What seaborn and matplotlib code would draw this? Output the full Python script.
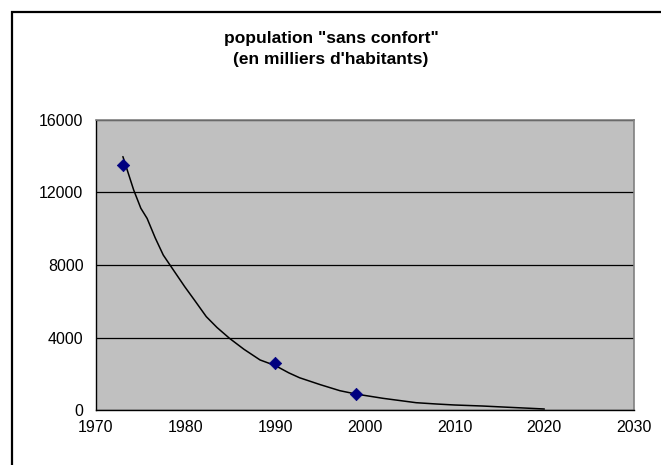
import matplotlib
matplotlib.use("Agg")
import matplotlib.pyplot as plt
import seaborn as sns
import pandas as pd
from matplotlib.patches import Rectangle

# Observed data points
years = [1973, 1990, 1999]
population = [13500, 2600, 870]

# Trend curve
trend_years = [1973, 1974.2, 1975.0, 1975.7, 1976.6, 1977.5, 1978.25, 1979.9, 1981.0,
               1982.3, 1983.5, 1984.9, 1986.5, 1988.3, 1990, 1991.5, 1992.7, 1995,
               1997.2, 1999, 2002.0, 2005.7, 2008, 2010.0, 2013.1, 2016, 2018.4, 2020]
trend_values = [13980, 12140, 11130, 10570, 9500, 8550, 8000, 6800, 6050,
                5150, 4550, 3950, 3350, 2760, 2450, 2050, 1780, 1400,
                1065, 880, 645, 403, 330, 276, 220, 150, 94, 55]

xticks = [1970, 1980, 1990, 2000, 2010, 2020, 2030]
yticks = [0, 4000, 8000, 12000, 16000]
title = 'population "sans confort"\n(en milliers d\'habitants)'

sns.set_style("white")
plt.rcParams['font.family'] = ['Liberation Sans', 'DejaVu Sans']
plt.rcParams['text.color'] = 'black'
plt.rcParams['xtick.color'] = 'black'
plt.rcParams['ytick.color'] = 'black'
plt.rcParams['axes.labelcolor'] = 'black'

fig = plt.figure(figsize=(6.61, 4.65), dpi=100)
ax = fig.add_axes([96/661, 1-410/465, (634-96)/661, (410-120)/465])
ax.set_facecolor("#c0c0c0")

df_pts = pd.DataFrame({"year": years, "pop": population})
df_tr = pd.DataFrame({"year": trend_years, "pop": trend_values})

sns.lineplot(data=df_tr, x="year", y="pop", ax=ax, color="black", linewidth=1.1, zorder=3)
sns.scatterplot(data=df_pts, x="year", y="pop", ax=ax, marker="D", s=40,
                color="#000080", edgecolor="#000080", zorder=4)

ax.set_xlim(1970, 2030)
ax.set_ylim(0, 16000)
ax.set_xticks(xticks)
ax.set_yticks(yticks)
ax.set_xticklabels([str(t) for t in xticks], fontsize=11.5, color="black")
ax.set_yticklabels([str(t) for t in yticks], fontsize=11.5, color="black")
ax.set_xlabel("")
ax.set_ylabel("")
ax.grid(axis="y", color="black", linewidth=0.9)
ax.grid(axis="x", visible=False)
ax.set_axisbelow(True)
ax.tick_params(axis="x", direction="out", length=6, width=1, color="black", pad=1)
ax.tick_params(axis="y", direction="out", length=6, width=1, color="black", pad=3)
for side in ["top", "right"]:
    ax.spines[side].set_color("#808080")
    ax.spines[side].set_linewidth(1.2)
    ax.spines[side].set_visible(True)
for side in ["left", "bottom"]:
    ax.spines[side].set_color("black")
    ax.spines[side].set_linewidth(1.0)
    ax.spines[side].set_visible(True)

fig.text(331/661, 1-49/465, title, ha="center", va="center", fontsize=12.5,
         fontweight="bold", linespacing=1.5, color="black")

fig.patches.append(Rectangle((12/661, -0.05), 1.0, 1-12/465+0.05, transform=fig.transFigure,
                             fill=False, edgecolor="black", linewidth=1.6))

fig.savefig("out.png", dpi=100)
